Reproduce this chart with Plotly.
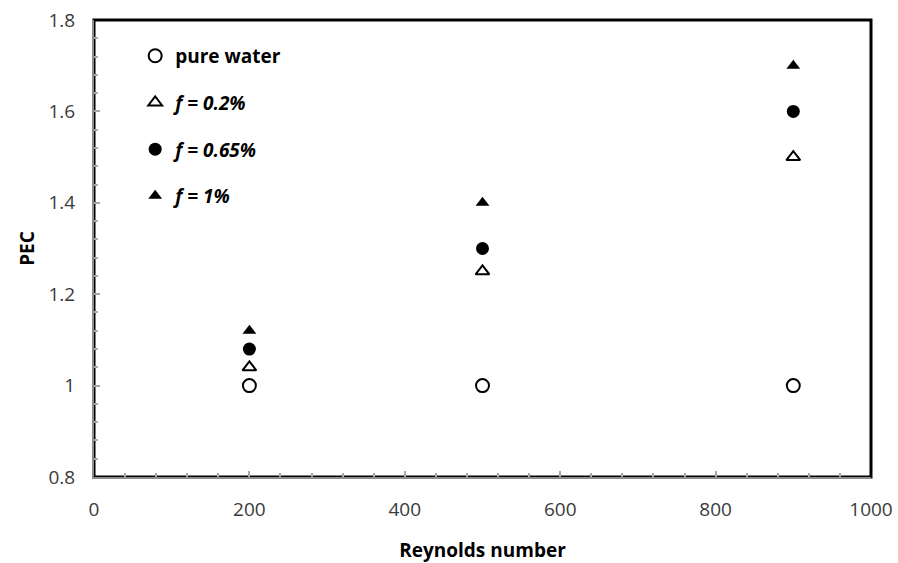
import plotly.graph_objects as go

reynolds = [200, 500, 900]
pec_pure_water = [1.0, 1.0, 1.0]
pec_f_02 = [1.04, 1.25, 1.5]
pec_f_065 = [1.08, 1.3, 1.6]
pec_f_1 = [1.12, 1.4, 1.7]

x_ticks = [0, 200, 400, 600, 800, 1000]
y_ticks = [0.8, 1.0, 1.2, 1.4, 1.6, 1.8]
y_tick_labels = ["0.8", "1", "1.2", "1.4", "1.6", "1.8"]

FONT = "'Open Sans', Lato, sans-serif"

series = [
    ("pure water", pec_pure_water, "circle-open", "<b>pure water</b>"),
    ("f = 0.2%", pec_f_02, "triangle-up-open", "<b><i>f = 0.2%</i></b>"),
    ("f = 0.65%", pec_f_065, "circle", "<b><i>f = 0.65%</i></b>"),
    ("f = 1%", pec_f_1, "triangle-up", "<b><i>f = 1%</i></b>"),
]

fig = go.Figure()
for i, (name, ys, sym, label) in enumerate(series):
    size = 13 if "circle" in sym else 12
    fig.add_trace(go.Scatter(
        x=reynolds, y=ys, mode="markers", name=label, legendgroup=str(i),
        marker=dict(symbol=sym, size=size, color="black",
                    line=dict(color="black", width=2 if "open" in sym else 0)),
    ))

fig.add_shape(type="rect", xref="paper", yref="paper", x0=0, y0=0, x1=1, y1=1,
              line=dict(color="black", width=3), layer="below")

fig.update_layout(
    width=898, height=563,
    margin=dict(l=94, r=27, t=20, b=86),
    paper_bgcolor="white", plot_bgcolor="white",
    font=dict(family=FONT, color="#3a3a3a", size=19),
    showlegend=True,
    legend=dict(x=0.053, y=0.963, xanchor="left", yanchor="top",
                traceorder="grouped", tracegroupgap=19,
                font=dict(family=FONT, size=19, color="black"),
                bgcolor="rgba(0,0,0,0)", itemwidth=30),
    xaxis=dict(range=[0, 1000], tickvals=x_ticks, showgrid=False, zeroline=False,
               automargin=False,
               showline=True, linecolor="#8c8c8c", linewidth=2, mirror=False,
               ticks="inside", ticklen=6, tickcolor="#a6a6a6", tickwidth=1.5,
               minor=dict(dtick=40, ticks="inside", ticklen=4, tickcolor="#a6a6a6", tickwidth=1.5),
               tickfont=dict(size=19, color="#3a3a3a"), ticklabelstandoff=14,
               title=dict(text="<b>Reynolds number</b>", font=dict(size=19, color="black"), standoff=24)),
    yaxis=dict(range=[0.8, 1.8], tickvals=y_ticks, ticktext=y_tick_labels,
               showgrid=False, zeroline=False, automargin=False,
               showline=True, linecolor="#8c8c8c", linewidth=2,
               ticks="inside", ticklen=6, tickcolor="#a6a6a6", tickwidth=1.5,
               minor=dict(dtick=0.04, tick0=0.8, ticks="inside", ticklen=4, tickcolor="#a6a6a6", tickwidth=1.5),
               tickfont=dict(size=19, color="#3a3a3a"), ticklabelstandoff=13,
               title=dict(text="<b>PEC</b>", font=dict(size=19, color="black"), standoff=9)),
)

fig.write_html("out.html")
